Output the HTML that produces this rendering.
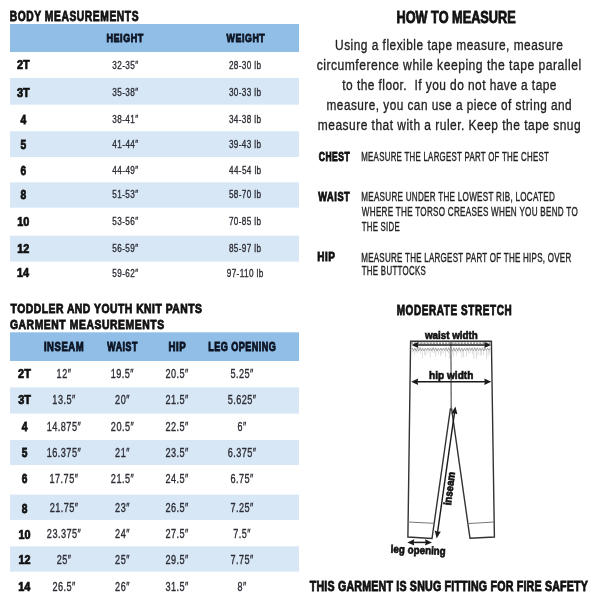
<!DOCTYPE html>
<html><head><meta charset="utf-8"><style>
html,body{margin:0;padding:0;background:#fff;width:600px;height:600px;overflow:hidden}
svg{display:block;will-change:transform}
text{font-family:"Liberation Sans",sans-serif;white-space:pre}
</style></head><body>
<svg width="600" height="600" viewBox="0 0 600 600">
<rect width="600" height="600" fill="#fff"/>
<g><text transform="translate(9.65 21.29) scale(0.7164 1)" font-size="14.37" font-weight="700" fill="#111111" stroke="#111111" stroke-width="0.886" textLength="179.92" lengthAdjust="spacing">BODY MEASUREMENTS</text></g>
<rect x="10" y="24" width="289" height="28" fill="#90bee7"/>
<rect x="10" y="78" width="289" height="26.700000000000003" fill="#d7e7f6"/>
<rect x="10" y="131.3" width="289" height="25.69999999999999" fill="#d7e7f6"/>
<rect x="10" y="182.3" width="289" height="25.399999999999977" fill="#d7e7f6"/>
<rect x="10" y="235.7" width="289" height="25.900000000000034" fill="#d7e7f6"/>
<g><text transform="translate(106.54 41.79) scale(0.7707 1)" font-size="11.76" font-weight="700" fill="#0c1322" stroke="#0c1322" stroke-width="0.854" textLength="47.68" lengthAdjust="spacing">HEIGHT</text></g>
<g><text transform="translate(226.58 41.79) scale(0.7554 1)" font-size="11.76" font-weight="700" fill="#0c1322" stroke="#0c1322" stroke-width="0.863" textLength="50.55" lengthAdjust="spacing">WEIGHT</text></g>
<g><text transform="translate(16.90 69.41) scale(0.8929 1)" font-size="12.23" font-weight="700" fill="#111111" stroke="#111111" stroke-width="0.741" textLength="14.27" lengthAdjust="spacing">2T</text></g>
<g><text transform="translate(112.30 68.72) scale(0.7558 1)" font-size="10.81" font-weight="400" fill="#2c2c34" stroke="#2c2c34" stroke-width="0.345" textLength="34.15" lengthAdjust="spacing">32-35″</text></g>
<g><text transform="translate(228.91 68.72) scale(0.7573 1)" font-size="10.81" font-weight="400" fill="#2c2c34" stroke="#2c2c34" stroke-width="0.345" textLength="42.37" lengthAdjust="spacing">28-30 lb</text></g>
<g><text transform="translate(16.95 96.91) scale(0.8933 1)" font-size="12.23" font-weight="700" fill="#111111" stroke="#111111" stroke-width="0.741" textLength="14.27" lengthAdjust="spacing">3T</text></g>
<g><text transform="translate(112.30 96.22) scale(0.7558 1)" font-size="10.81" font-weight="400" fill="#2c2c34" stroke="#2c2c34" stroke-width="0.345" textLength="34.15" lengthAdjust="spacing">35-38″</text></g>
<g><text transform="translate(228.95 96.22) scale(0.7573 1)" font-size="10.81" font-weight="400" fill="#2c2c34" stroke="#2c2c34" stroke-width="0.345" textLength="42.38" lengthAdjust="spacing">30-33 lb</text></g>
<g><text transform="translate(20.49 124.11) scale(0.8430 1)" font-size="12.23" font-weight="700" fill="#111111" stroke="#111111" stroke-width="0.762" textLength="6.80" lengthAdjust="spacing">4</text></g>
<g><text transform="translate(112.30 123.42) scale(0.7558 1)" font-size="10.81" font-weight="400" fill="#2c2c34" stroke="#2c2c34" stroke-width="0.345" textLength="34.15" lengthAdjust="spacing">38-41″</text></g>
<g><text transform="translate(228.95 123.42) scale(0.7573 1)" font-size="10.81" font-weight="400" fill="#2c2c34" stroke="#2c2c34" stroke-width="0.345" textLength="42.38" lengthAdjust="spacing">34-38 lb</text></g>
<g><text transform="translate(20.54 148.71) scale(0.8365 1)" font-size="12.23" font-weight="700" fill="#111111" stroke="#111111" stroke-width="0.765" textLength="6.80" lengthAdjust="spacing">5</text></g>
<g><text transform="translate(112.37 148.02) scale(0.7559 1)" font-size="10.81" font-weight="400" fill="#2c2c34" stroke="#2c2c34" stroke-width="0.345" textLength="34.17" lengthAdjust="spacing">41-44″</text></g>
<g><text transform="translate(228.95 148.02) scale(0.7573 1)" font-size="10.81" font-weight="400" fill="#2c2c34" stroke="#2c2c34" stroke-width="0.345" textLength="42.38" lengthAdjust="spacing">39-43 lb</text></g>
<g><text transform="translate(20.57 174.71) scale(0.8335 1)" font-size="12.23" font-weight="700" fill="#111111" stroke="#111111" stroke-width="0.767" textLength="6.80" lengthAdjust="spacing">6</text></g>
<g><text transform="translate(112.37 174.02) scale(0.7559 1)" font-size="10.81" font-weight="400" fill="#2c2c34" stroke="#2c2c34" stroke-width="0.345" textLength="34.17" lengthAdjust="spacing">44-49″</text></g>
<g><text transform="translate(229.02 174.02) scale(0.7573 1)" font-size="10.81" font-weight="400" fill="#2c2c34" stroke="#2c2c34" stroke-width="0.345" textLength="42.40" lengthAdjust="spacing">44-54 lb</text></g>
<g><text transform="translate(20.56 198.91) scale(0.8355 1)" font-size="12.23" font-weight="700" fill="#111111" stroke="#111111" stroke-width="0.766" textLength="6.80" lengthAdjust="spacing">8</text></g>
<g><text transform="translate(112.30 198.22) scale(0.7558 1)" font-size="10.81" font-weight="400" fill="#2c2c34" stroke="#2c2c34" stroke-width="0.345" textLength="34.15" lengthAdjust="spacing">51-53″</text></g>
<g><text transform="translate(228.95 198.22) scale(0.7573 1)" font-size="10.81" font-weight="400" fill="#2c2c34" stroke="#2c2c34" stroke-width="0.345" textLength="42.38" lengthAdjust="spacing">58-70 lb</text></g>
<g><text transform="translate(17.26 225.71) scale(0.8878 1)" font-size="12.23" font-weight="700" fill="#111111" stroke="#111111" stroke-width="0.743" textLength="13.61" lengthAdjust="spacing">10</text></g>
<g><text transform="translate(112.30 225.02) scale(0.7558 1)" font-size="10.81" font-weight="400" fill="#2c2c34" stroke="#2c2c34" stroke-width="0.345" textLength="34.15" lengthAdjust="spacing">53-56″</text></g>
<g><text transform="translate(228.91 225.02) scale(0.7573 1)" font-size="10.81" font-weight="400" fill="#2c2c34" stroke="#2c2c34" stroke-width="0.345" textLength="42.37" lengthAdjust="spacing">70-85 lb</text></g>
<g><text transform="translate(17.26 252.81) scale(0.8878 1)" font-size="12.23" font-weight="700" fill="#111111" stroke="#111111" stroke-width="0.743" textLength="13.61" lengthAdjust="spacing">12</text></g>
<g><text transform="translate(112.30 252.12) scale(0.7558 1)" font-size="10.81" font-weight="400" fill="#2c2c34" stroke="#2c2c34" stroke-width="0.345" textLength="34.15" lengthAdjust="spacing">56-59″</text></g>
<g><text transform="translate(228.93 252.12) scale(0.7573 1)" font-size="10.81" font-weight="400" fill="#2c2c34" stroke="#2c2c34" stroke-width="0.345" textLength="42.37" lengthAdjust="spacing">85-97 lb</text></g>
<g><text transform="translate(17.06 277.41) scale(0.8895 1)" font-size="12.23" font-weight="700" fill="#111111" stroke="#111111" stroke-width="0.742" textLength="13.61" lengthAdjust="spacing">14</text></g>
<g><text transform="translate(112.30 276.72) scale(0.7558 1)" font-size="10.81" font-weight="400" fill="#2c2c34" stroke="#2c2c34" stroke-width="0.345" textLength="34.15" lengthAdjust="spacing">59-62″</text></g>
<g><text transform="translate(226.78 276.72) scale(0.7581 1)" font-size="10.81" font-weight="400" fill="#2c2c34" stroke="#2c2c34" stroke-width="0.345" textLength="48.03" lengthAdjust="spacing">97-110 lb</text></g>
<g><text transform="translate(10.53 313.49) scale(0.8115 1)" font-size="12.77" font-weight="700" fill="#111111" stroke="#111111" stroke-width="0.833" textLength="235.99" lengthAdjust="spacing">TODDLER AND YOUTH KNIT PANTS</text></g>
<g><text transform="translate(9.92 329.49) scale(0.8025 1)" font-size="12.92" font-weight="700" fill="#111111" stroke="#111111" stroke-width="0.837" textLength="192.08" lengthAdjust="spacing">GARMENT MEASUREMENTS</text></g>
<rect x="10" y="332.3" width="289" height="28.7" fill="#90bee7"/>
<rect x="10" y="387.4" width="289" height="26.200000000000045" fill="#d7e7f6"/>
<rect x="10" y="440" width="289" height="25" fill="#d7e7f6"/>
<rect x="10" y="494.6" width="289" height="25.299999999999955" fill="#d7e7f6"/>
<rect x="10" y="546.3" width="289" height="25.300000000000068" fill="#d7e7f6"/>
<g><text transform="translate(43.92 351.39) scale(0.7998 1)" font-size="11.90" font-weight="700" fill="#0c1322" stroke="#0c1322" stroke-width="0.839" textLength="49.65" lengthAdjust="spacing">INSEAM</text></g>
<g><text transform="translate(107.32 351.39) scale(0.7420 1)" font-size="11.90" font-weight="700" fill="#0c1322" stroke="#0c1322" stroke-width="0.871" textLength="40.51" lengthAdjust="spacing">WAIST</text></g>
<g><text transform="translate(168.51 351.39) scale(0.8125 1)" font-size="11.90" font-weight="700" fill="#0c1322" stroke="#0c1322" stroke-width="0.832" textLength="21.24" lengthAdjust="spacing">HIP</text></g>
<g><text transform="translate(208.14 351.39) scale(0.7625 1)" font-size="11.90" font-weight="700" fill="#0c1322" stroke="#0c1322" stroke-width="0.859" textLength="88.76" lengthAdjust="spacing">LEG OPENING</text></g>
<g><text transform="translate(18.10 378.41) scale(0.8929 1)" font-size="12.23" font-weight="700" fill="#111111" stroke="#111111" stroke-width="0.741" textLength="14.27" lengthAdjust="spacing">2T</text></g>
<g><text transform="translate(56.56 378.22) scale(0.7313 1)" font-size="12.41" font-weight="400" fill="#2c2c34" stroke="#2c2c34" stroke-width="0.351" textLength="19.67" lengthAdjust="spacing">12″</text></g>
<g><text transform="translate(110.77 378.22) scale(0.7365 1)" font-size="12.41" font-weight="400" fill="#2c2c34" stroke="#2c2c34" stroke-width="0.350" textLength="30.92" lengthAdjust="spacing">19.5″</text></g>
<g><text transform="translate(165.47 378.22) scale(0.7366 1)" font-size="12.41" font-weight="400" fill="#2c2c34" stroke="#2c2c34" stroke-width="0.350" textLength="30.94" lengthAdjust="spacing">20.5″</text></g>
<g><text transform="translate(230.51 378.22) scale(0.7367 1)" font-size="12.41" font-weight="400" fill="#2c2c34" stroke="#2c2c34" stroke-width="0.350" textLength="30.95" lengthAdjust="spacing">5.25″</text></g>
<g><text transform="translate(18.15 404.41) scale(0.8933 1)" font-size="12.23" font-weight="700" fill="#111111" stroke="#111111" stroke-width="0.741" textLength="14.27" lengthAdjust="spacing">3T</text></g>
<g><text transform="translate(52.37 404.22) scale(0.7365 1)" font-size="12.41" font-weight="400" fill="#2c2c34" stroke="#2c2c34" stroke-width="0.350" textLength="30.92" lengthAdjust="spacing">13.5″</text></g>
<g><text transform="translate(115.07 404.22) scale(0.7316 1)" font-size="12.41" font-weight="400" fill="#2c2c34" stroke="#2c2c34" stroke-width="0.351" textLength="19.70" lengthAdjust="spacing">20″</text></g>
<g><text transform="translate(165.47 404.22) scale(0.7366 1)" font-size="12.41" font-weight="400" fill="#2c2c34" stroke="#2c2c34" stroke-width="0.350" textLength="30.94" lengthAdjust="spacing">21.5″</text></g>
<g><text transform="translate(227.69 404.22) scale(0.7384 1)" font-size="12.41" font-weight="400" fill="#2c2c34" stroke="#2c2c34" stroke-width="0.349" textLength="38.46" lengthAdjust="spacing">5.625″</text></g>
<g><text transform="translate(21.69 430.91) scale(0.8430 1)" font-size="12.23" font-weight="700" fill="#111111" stroke="#111111" stroke-width="0.762" textLength="6.80" lengthAdjust="spacing">4</text></g>
<g><text transform="translate(46.76 430.72) scale(0.7394 1)" font-size="12.41" font-weight="400" fill="#2c2c34" stroke="#2c2c34" stroke-width="0.349" textLength="45.92" lengthAdjust="spacing">14.875″</text></g>
<g><text transform="translate(110.87 430.72) scale(0.7366 1)" font-size="12.41" font-weight="400" fill="#2c2c34" stroke="#2c2c34" stroke-width="0.350" textLength="30.94" lengthAdjust="spacing">20.5″</text></g>
<g><text transform="translate(165.47 430.72) scale(0.7366 1)" font-size="12.41" font-weight="400" fill="#2c2c34" stroke="#2c2c34" stroke-width="0.350" textLength="30.94" lengthAdjust="spacing">22.5″</text></g>
<g><text transform="translate(237.46 430.72) scale(0.7227 1)" font-size="12.41" font-weight="400" fill="#2c2c34" stroke="#2c2c34" stroke-width="0.353" textLength="12.20" lengthAdjust="spacing">6″</text></g>
<g><text transform="translate(21.74 457.11) scale(0.8365 1)" font-size="12.23" font-weight="700" fill="#111111" stroke="#111111" stroke-width="0.765" textLength="6.80" lengthAdjust="spacing">5</text></g>
<g><text transform="translate(46.76 456.92) scale(0.7394 1)" font-size="12.41" font-weight="400" fill="#2c2c34" stroke="#2c2c34" stroke-width="0.349" textLength="45.92" lengthAdjust="spacing">16.375″</text></g>
<g><text transform="translate(115.07 456.92) scale(0.7316 1)" font-size="12.41" font-weight="400" fill="#2c2c34" stroke="#2c2c34" stroke-width="0.351" textLength="19.70" lengthAdjust="spacing">21″</text></g>
<g><text transform="translate(165.47 456.92) scale(0.7366 1)" font-size="12.41" font-weight="400" fill="#2c2c34" stroke="#2c2c34" stroke-width="0.350" textLength="30.94" lengthAdjust="spacing">23.5″</text></g>
<g><text transform="translate(227.65 456.92) scale(0.7383 1)" font-size="12.41" font-weight="400" fill="#2c2c34" stroke="#2c2c34" stroke-width="0.349" textLength="38.45" lengthAdjust="spacing">6.375″</text></g>
<g><text transform="translate(21.77 483.41) scale(0.8335 1)" font-size="12.23" font-weight="700" fill="#111111" stroke="#111111" stroke-width="0.767" textLength="6.80" lengthAdjust="spacing">6</text></g>
<g><text transform="translate(49.55 483.22) scale(0.7383 1)" font-size="12.41" font-weight="400" fill="#2c2c34" stroke="#2c2c34" stroke-width="0.349" textLength="38.42" lengthAdjust="spacing">17.75″</text></g>
<g><text transform="translate(110.87 483.22) scale(0.7366 1)" font-size="12.41" font-weight="400" fill="#2c2c34" stroke="#2c2c34" stroke-width="0.350" textLength="30.94" lengthAdjust="spacing">21.5″</text></g>
<g><text transform="translate(165.47 483.22) scale(0.7366 1)" font-size="12.41" font-weight="400" fill="#2c2c34" stroke="#2c2c34" stroke-width="0.350" textLength="30.94" lengthAdjust="spacing">24.5″</text></g>
<g><text transform="translate(230.47 483.22) scale(0.7366 1)" font-size="12.41" font-weight="400" fill="#2c2c34" stroke="#2c2c34" stroke-width="0.350" textLength="30.94" lengthAdjust="spacing">6.75″</text></g>
<g><text transform="translate(21.76 512.61) scale(0.8355 1)" font-size="12.23" font-weight="700" fill="#111111" stroke="#111111" stroke-width="0.766" textLength="6.80" lengthAdjust="spacing">8</text></g>
<g><text transform="translate(49.65 512.42) scale(0.7383 1)" font-size="12.41" font-weight="400" fill="#2c2c34" stroke="#2c2c34" stroke-width="0.349" textLength="38.45" lengthAdjust="spacing">21.75″</text></g>
<g><text transform="translate(115.07 512.42) scale(0.7316 1)" font-size="12.41" font-weight="400" fill="#2c2c34" stroke="#2c2c34" stroke-width="0.351" textLength="19.70" lengthAdjust="spacing">23″</text></g>
<g><text transform="translate(165.47 512.42) scale(0.7366 1)" font-size="12.41" font-weight="400" fill="#2c2c34" stroke="#2c2c34" stroke-width="0.350" textLength="30.94" lengthAdjust="spacing">26.5″</text></g>
<g><text transform="translate(230.47 512.42) scale(0.7366 1)" font-size="12.41" font-weight="400" fill="#2c2c34" stroke="#2c2c34" stroke-width="0.350" textLength="30.94" lengthAdjust="spacing">7.25″</text></g>
<g><text transform="translate(18.46 538.61) scale(0.8878 1)" font-size="12.23" font-weight="700" fill="#111111" stroke="#111111" stroke-width="0.743" textLength="13.61" lengthAdjust="spacing">10</text></g>
<g><text transform="translate(46.86 538.42) scale(0.7395 1)" font-size="12.41" font-weight="400" fill="#2c2c34" stroke="#2c2c34" stroke-width="0.349" textLength="45.94" lengthAdjust="spacing">23.375″</text></g>
<g><text transform="translate(115.07 538.42) scale(0.7316 1)" font-size="12.41" font-weight="400" fill="#2c2c34" stroke="#2c2c34" stroke-width="0.351" textLength="19.70" lengthAdjust="spacing">24″</text></g>
<g><text transform="translate(165.47 538.42) scale(0.7366 1)" font-size="12.41" font-weight="400" fill="#2c2c34" stroke="#2c2c34" stroke-width="0.350" textLength="30.94" lengthAdjust="spacing">27.5″</text></g>
<g><text transform="translate(233.26 538.42) scale(0.7338 1)" font-size="12.41" font-weight="400" fill="#2c2c34" stroke="#2c2c34" stroke-width="0.350" textLength="23.44" lengthAdjust="spacing">7.5″</text></g>
<g><text transform="translate(18.46 563.91) scale(0.8878 1)" font-size="12.23" font-weight="700" fill="#111111" stroke="#111111" stroke-width="0.743" textLength="13.61" lengthAdjust="spacing">12</text></g>
<g><text transform="translate(56.67 563.72) scale(0.7316 1)" font-size="12.41" font-weight="400" fill="#2c2c34" stroke="#2c2c34" stroke-width="0.351" textLength="19.70" lengthAdjust="spacing">25″</text></g>
<g><text transform="translate(115.07 563.72) scale(0.7316 1)" font-size="12.41" font-weight="400" fill="#2c2c34" stroke="#2c2c34" stroke-width="0.351" textLength="19.70" lengthAdjust="spacing">25″</text></g>
<g><text transform="translate(165.47 563.72) scale(0.7366 1)" font-size="12.41" font-weight="400" fill="#2c2c34" stroke="#2c2c34" stroke-width="0.350" textLength="30.94" lengthAdjust="spacing">29.5″</text></g>
<g><text transform="translate(230.47 563.72) scale(0.7366 1)" font-size="12.41" font-weight="400" fill="#2c2c34" stroke="#2c2c34" stroke-width="0.350" textLength="30.94" lengthAdjust="spacing">7.75″</text></g>
<g><text transform="translate(18.26 590.71) scale(0.8895 1)" font-size="12.23" font-weight="700" fill="#111111" stroke="#111111" stroke-width="0.742" textLength="13.61" lengthAdjust="spacing">14</text></g>
<g><text transform="translate(52.47 590.52) scale(0.7366 1)" font-size="12.41" font-weight="400" fill="#2c2c34" stroke="#2c2c34" stroke-width="0.350" textLength="30.94" lengthAdjust="spacing">26.5″</text></g>
<g><text transform="translate(115.07 590.52) scale(0.7316 1)" font-size="12.41" font-weight="400" fill="#2c2c34" stroke="#2c2c34" stroke-width="0.351" textLength="19.70" lengthAdjust="spacing">26″</text></g>
<g><text transform="translate(165.51 590.52) scale(0.7367 1)" font-size="12.41" font-weight="400" fill="#2c2c34" stroke="#2c2c34" stroke-width="0.350" textLength="30.95" lengthAdjust="spacing">31.5″</text></g>
<g><text transform="translate(237.48 590.52) scale(0.7228 1)" font-size="12.41" font-weight="400" fill="#2c2c34" stroke="#2c2c34" stroke-width="0.353" textLength="12.20" lengthAdjust="spacing">8″</text></g>
<g><text transform="translate(396.51 22.99) scale(0.7817 1)" font-size="16.26" font-weight="700" fill="#111111" stroke="#111111" stroke-width="0.848" textLength="152.38" lengthAdjust="spacing">HOW TO MEASURE</text></g>
<g><text transform="translate(335.04 50.32) scale(0.7774 1)" font-size="15.31" font-weight="400" fill="#222222" stroke="#222222" stroke-width="0.340" textLength="293.12" lengthAdjust="spacing">Using a flexible tape measure, measure</text></g>
<g><text transform="translate(316.65 70.12) scale(0.7945 1)" font-size="15.31" font-weight="400" fill="#222222" stroke="#222222" stroke-width="0.337" textLength="332.93" lengthAdjust="spacing">circumference while keeping the tape parallel</text></g>
<g><text transform="translate(342.35 89.92) scale(0.7792 1)" font-size="15.31" font-weight="400" fill="#222222" stroke="#222222" stroke-width="0.340" textLength="274.74" lengthAdjust="spacing">to the floor.  If you do not have a tape</text></g>
<g><text transform="translate(326.56 109.72) scale(0.7705 1)" font-size="15.31" font-weight="400" fill="#222222" stroke="#222222" stroke-width="0.342" textLength="318.10" lengthAdjust="spacing">measure, you can use a piece of string and</text></g>
<g><text transform="translate(317.85 129.52) scale(0.7828 1)" font-size="15.31" font-weight="400" fill="#222222" stroke="#222222" stroke-width="0.339" textLength="335.70" lengthAdjust="spacing">measure that with a ruler. Keep the tape snug</text></g>
<g><text transform="translate(318.73 160.79) scale(0.7163 1)" font-size="11.90" font-weight="700" fill="#111111" stroke="#111111" stroke-width="0.886" textLength="43.33" lengthAdjust="spacing">CHEST</text></g>
<g><text transform="translate(361.24 160.52) scale(0.6520 1)" font-size="12.11" font-weight="400" fill="#222222" stroke="#222222" stroke-width="0.372" textLength="287.65" lengthAdjust="spacing">MEASURE THE LARGEST PART OF THE CHEST</text></g>
<g><text transform="translate(318.33 200.59) scale(0.7670 1)" font-size="12.05" font-weight="700" fill="#111111" stroke="#111111" stroke-width="0.856" textLength="41.00" lengthAdjust="spacing">WAIST</text></g>
<g><text transform="translate(361.22 200.92) scale(0.6696 1)" font-size="12.11" font-weight="400" fill="#222222" stroke="#222222" stroke-width="0.367" textLength="289.03" lengthAdjust="spacing">MEASURE UNDER THE LOWEST RIB, LOCATED</text></g>
<g><text transform="translate(361.83 215.92) scale(0.6698 1)" font-size="12.11" font-weight="400" fill="#222222" stroke="#222222" stroke-width="0.367" textLength="322.39" lengthAdjust="spacing">WHERE THE TORSO CREASES WHEN YOU BEND TO</text></g>
<g><text transform="translate(361.71 230.72) scale(0.6464 1)" font-size="12.11" font-weight="400" fill="#222222" stroke="#222222" stroke-width="0.373" textLength="58.77" lengthAdjust="spacing">THE SIDE</text></g>
<g><text transform="translate(317.19 260.59) scale(0.8270 1)" font-size="12.05" font-weight="700" fill="#111111" stroke="#111111" stroke-width="0.825" textLength="21.50" lengthAdjust="spacing">HIP</text></g>
<g><text transform="translate(361.23 262.42) scale(0.6617 1)" font-size="12.11" font-weight="400" fill="#222222" stroke="#222222" stroke-width="0.369" textLength="317.40" lengthAdjust="spacing">MEASURE THE LARGEST PART OF THE HIPS, OVER</text></g>
<g><text transform="translate(361.71 274.92) scale(0.6518 1)" font-size="12.11" font-weight="400" fill="#222222" stroke="#222222" stroke-width="0.372" textLength="98.21" lengthAdjust="spacing">THE BUTTOCKS</text></g>
<g><text transform="translate(396.66 314.99) scale(0.6714 1)" font-size="14.81" font-weight="700" fill="#111111" stroke="#111111" stroke-width="0.915" textLength="171.21" lengthAdjust="spacing">MODERATE STRETCH</text></g>
<g><text transform="translate(309.71 590.59) scale(0.6922 1)" font-size="15.39" font-weight="700" fill="#111111" stroke="#111111" stroke-width="0.901" textLength="401.90" lengthAdjust="spacing">THIS GARMENT IS SNUG FITTING FOR FIRE SAFETY</text></g>
<path d="M410.6 341.3 L491.4 341.3 L494.4 537 L470 538.3 L451.6 409 L450.4 409 L432 538.5 L407.9 537 Z" fill="none" stroke="#333333" stroke-width="1.4" stroke-linejoin="miter"/>
<line x1="450.9" y1="341.2" x2="451.2" y2="409" stroke="#555" stroke-width="1.2"/>
<line x1="408" y1="522" x2="433.7" y2="523.3" stroke="#777" stroke-width="1.0"/>
<line x1="467.6" y1="523.6" x2="494" y2="522" stroke="#777" stroke-width="1.0"/>
<line x1="411" y1="343.1" x2="490.5" y2="343.1" stroke="#777" stroke-width="1.1" stroke-dasharray="2.2 0.9"/>
<path d="M411 349.5 L412.3 348.0 L413.6 351.1 L414.9 348.1 L416.2 351.3 L417.5 348.0 L418.8 351.2 L420.1 347.6 L421.4 350.9 L422.7 348.2 L424.0 351.0 L425.3 348.1 L426.6 350.6 L427.9 347.9 L429.2 350.7 L430.5 347.9 L431.8 351.0 L433.1 347.6 L434.4 350.7 L435.7 347.8 L437.0 351.2 L438.3 348.1 L439.6 350.6 L440.9 348.1 L442.2 350.6 L443.5 348.0 L444.8 350.6 L446.1 347.6 L447.4 351.2 L448.7 347.7 L450.0 350.7 L451.3 348.2 L452.6 351.2 L453.9 347.8 L455.2 351.3 L456.5 347.9 L457.8 351.0 L459.1 347.7 L460.4 351.3 L461.7 348.0 L463.0 351.3 L464.3 348.1 L465.6 350.7 L466.9 347.8 L468.2 350.6 L469.5 347.7 L470.8 350.6 L472.1 347.8 L473.4 351.0 L474.7 347.6 L476.0 351.0 L477.3 347.8 L478.6 350.7 L479.9 348.1 L481.2 350.9 L482.5 347.8 L483.8 350.9 L485.1 348.0 L486.4 350.5 L487.7 348.2 L489.0 350.5 L490.3 348.0" fill="none" stroke="#8a8a8a" stroke-width="0.75"/>
<line x1="412.4" y1="350.5" x2="412.4" y2="352.6" stroke="#cfcfcf" stroke-width="0.7"/>
<line x1="414.3" y1="350.5" x2="414.3" y2="354.9" stroke="#cfcfcf" stroke-width="0.7"/>
<line x1="416.1" y1="350.5" x2="416.1" y2="352.6" stroke="#cfcfcf" stroke-width="0.7"/>
<line x1="417.5" y1="350.5" x2="417.5" y2="353.7" stroke="#cfcfcf" stroke-width="0.7"/>
<line x1="420.5" y1="350.5" x2="420.5" y2="353.8" stroke="#cfcfcf" stroke-width="0.7"/>
<line x1="422.3" y1="350.5" x2="422.3" y2="358.5" stroke="#cfcfcf" stroke-width="0.7"/>
<line x1="424.5" y1="350.5" x2="424.5" y2="354.7" stroke="#cfcfcf" stroke-width="0.7"/>
<line x1="425.8" y1="350.5" x2="425.8" y2="355.9" stroke="#cfcfcf" stroke-width="0.7"/>
<line x1="428.3" y1="350.5" x2="428.3" y2="353.2" stroke="#cfcfcf" stroke-width="0.7"/>
<line x1="430.3" y1="350.5" x2="430.3" y2="357.7" stroke="#cfcfcf" stroke-width="0.7"/>
<line x1="432.4" y1="350.5" x2="432.4" y2="352.7" stroke="#cfcfcf" stroke-width="0.7"/>
<line x1="434.5" y1="350.5" x2="434.5" y2="353.1" stroke="#cfcfcf" stroke-width="0.7"/>
<line x1="435.8" y1="350.5" x2="435.8" y2="356.5" stroke="#cfcfcf" stroke-width="0.7"/>
<line x1="438.5" y1="350.5" x2="438.5" y2="354.7" stroke="#cfcfcf" stroke-width="0.7"/>
<line x1="440.5" y1="350.5" x2="440.5" y2="356.0" stroke="#cfcfcf" stroke-width="0.7"/>
<line x1="441.8" y1="350.5" x2="441.8" y2="354.6" stroke="#cfcfcf" stroke-width="0.7"/>
<line x1="443.6" y1="350.5" x2="443.6" y2="353.0" stroke="#cfcfcf" stroke-width="0.7"/>
<line x1="445.6" y1="350.5" x2="445.6" y2="357.0" stroke="#cfcfcf" stroke-width="0.7"/>
<line x1="448.6" y1="350.5" x2="448.6" y2="353.5" stroke="#cfcfcf" stroke-width="0.7"/>
<line x1="449.5" y1="350.5" x2="449.5" y2="358.9" stroke="#cfcfcf" stroke-width="0.7"/>
<line x1="452.0" y1="350.5" x2="452.0" y2="355.1" stroke="#cfcfcf" stroke-width="0.7"/>
<line x1="453.7" y1="350.5" x2="453.7" y2="356.4" stroke="#cfcfcf" stroke-width="0.7"/>
<line x1="456.4" y1="350.5" x2="456.4" y2="355.5" stroke="#cfcfcf" stroke-width="0.7"/>
<line x1="457.9" y1="350.5" x2="457.9" y2="352.9" stroke="#cfcfcf" stroke-width="0.7"/>
<line x1="460.5" y1="350.5" x2="460.5" y2="352.7" stroke="#cfcfcf" stroke-width="0.7"/>
<line x1="462.0" y1="350.5" x2="462.0" y2="357.9" stroke="#cfcfcf" stroke-width="0.7"/>
<line x1="463.6" y1="350.5" x2="463.6" y2="357.3" stroke="#cfcfcf" stroke-width="0.7"/>
<line x1="466.5" y1="350.5" x2="466.5" y2="356.6" stroke="#cfcfcf" stroke-width="0.7"/>
<line x1="468.3" y1="350.5" x2="468.3" y2="353.2" stroke="#cfcfcf" stroke-width="0.7"/>
<line x1="469.9" y1="350.5" x2="469.9" y2="353.5" stroke="#cfcfcf" stroke-width="0.7"/>
<line x1="472.4" y1="350.5" x2="472.4" y2="354.4" stroke="#cfcfcf" stroke-width="0.7"/>
<line x1="473.9" y1="350.5" x2="473.9" y2="359.0" stroke="#cfcfcf" stroke-width="0.7"/>
<line x1="476.4" y1="350.5" x2="476.4" y2="358.8" stroke="#cfcfcf" stroke-width="0.7"/>
<line x1="477.9" y1="350.5" x2="477.9" y2="355.7" stroke="#cfcfcf" stroke-width="0.7"/>
<line x1="480.3" y1="350.5" x2="480.3" y2="355.6" stroke="#cfcfcf" stroke-width="0.7"/>
<line x1="481.7" y1="350.5" x2="481.7" y2="355.1" stroke="#cfcfcf" stroke-width="0.7"/>
<line x1="483.6" y1="350.5" x2="483.6" y2="355.0" stroke="#cfcfcf" stroke-width="0.7"/>
<line x1="486.6" y1="350.5" x2="486.6" y2="358.7" stroke="#cfcfcf" stroke-width="0.7"/>
<line x1="488.2" y1="350.5" x2="488.2" y2="355.7" stroke="#cfcfcf" stroke-width="0.7"/>
<line x1="489.8" y1="350.5" x2="489.8" y2="353.1" stroke="#cfcfcf" stroke-width="0.7"/>
<line x1="416.30" y1="345.10" x2="486.30" y2="345.10" stroke="#1a1a1a" stroke-width="1.5"/>
<path d="M411.40 345.10 L418.40 348.10 L417.70 345.10 L418.40 342.10 Z" fill="#1a1a1a"/>
<path d="M491.20 345.10 L484.20 348.10 L484.90 345.10 L484.20 342.10 Z" fill="#1a1a1a"/>
<line x1="416.10" y1="381.80" x2="486.30" y2="381.80" stroke="#1a1a1a" stroke-width="1.5"/>
<path d="M411.20 381.80 L418.20 385.00 L417.50 381.80 L418.20 378.60 Z" fill="#1a1a1a"/>
<path d="M491.20 381.80 L484.20 385.00 L484.90 381.80 L484.20 378.60 Z" fill="#1a1a1a"/>
<line x1="412.20" y1="542.40" x2="427.10" y2="542.40" stroke="#1a1a1a" stroke-width="1.5"/>
<path d="M407.30 542.40 L414.30 545.60 L413.60 542.40 L414.30 539.20 Z" fill="#1a1a1a"/>
<path d="M432.00 542.40 L425.00 545.60 L425.70 542.40 L425.00 539.20 Z" fill="#1a1a1a"/>
<line x1="437.44" y1="533.20" x2="454.66" y2="411.70" stroke="#1a1a1a" stroke-width="1.4"/>
<path d="M436.70 538.40 L440.82 531.41 L437.65 531.72 L434.68 530.54 Z" fill="#1a1a1a"/>
<path d="M455.40 406.50 L457.42 414.36 L454.45 413.18 L451.28 413.49 Z" fill="#1a1a1a"/>
<g><text transform="translate(424.93 338.63) scale(0.8535 1)" font-size="11.50" font-weight="700" fill="#111111" stroke="#111111" stroke-width="0.649" textLength="61.96" lengthAdjust="spacing">waist width</text></g>
<g><text transform="translate(429.07 378.63) scale(0.8778 1)" font-size="11.50" font-weight="700" fill="#111111" stroke="#111111" stroke-width="0.640" textLength="50.44" lengthAdjust="spacing">hip width</text></g>
<g transform="rotate(2.3 418 553)"><text transform="translate(390.59 553.84) scale(0.8828 1)" font-size="11.12" font-weight="700" fill="#111111" stroke="#111111" stroke-width="0.639" textLength="62.38" lengthAdjust="spacing">leg opening</text></g>
<text transform="translate(451.1 504.9) rotate(-83.2)" x="-0.68" y="0" font-size="10.61" font-weight="700" fill="#111111" stroke="#111111" stroke-width="0.7" textLength="33.37" lengthAdjust="spacingAndGlyphs">inseam</text>
</svg></body></html>
